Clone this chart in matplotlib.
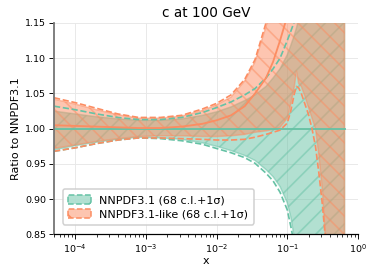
import matplotlib
matplotlib.use('Agg')
import matplotlib.pyplot as plt
from matplotlib.patches import Patch
from matplotlib.colors import to_rgba

DPI = 110
plt.rcParams.update({
    'font.family': 'DejaVu Sans',
    'font.size': 7.3,
    'axes.titlesize': 8.9,
    'axes.labelsize': 7.3,
    'xtick.labelsize': 6.2,
    'ytick.labelsize': 6.2,
    'legend.fontsize': 7.3,
    'hatch.linewidth': 1.1,
})

GREEN = '#66c2a5'
ORANGE = '#fc8d62'

# x grid (momentum fraction)
x = [5.0e-5, 1.0e-4, 2.0e-4, 4.0e-4, 7.9e-4, 1.6e-3, 3.2e-3, 6.3e-3,
     1.0e-2, 1.6e-2, 2.5e-2, 3.5e-2, 5.0e-2, 6.3e-2, 7.9e-2, 0.100,
     0.112, 0.126, 0.135, 0.145, 0.158, 0.178, 0.200, 0.224,
     0.251, 0.282, 0.316, 0.339, 0.363, 0.398, 0.501, 0.646]

# NNPDF3.1 (reference, ratio to itself)
nn_cv = [1.0, 1.0, 1.0, 1.0, 1.0, 1.0, 1.0, 1.0,
         1.0, 1.0, 1.0, 1.0, 1.0, 1.0, 1.0, 1.0,
         1.0, 1.0, 1.0, 1.0, 1.0, 1.0, 1.0, 1.0,
         1.0, 1.0, 1.0, 1.0, 1.0, 1.0, 1.0, 1.0]
nn_68_up = [1.025, 1.021, 1.017, 1.014, 1.012, 1.012, 1.014, 1.019,
            1.024, 1.031, 1.040, 1.048, 1.060, 1.072, 1.085, 1.105,
            1.118, 1.133, 1.143, 1.155, 1.170, 1.190, 1.210, 1.230,
            1.250, 1.270, 1.290, 1.300, 1.310, 1.330, 1.360, 1.400]
nn_68_dn = [0.970, 0.976, 0.981, 0.985, 0.988, 0.987, 0.985, 0.980,
            0.975, 0.969, 0.962, 0.955, 0.942, 0.932, 0.918, 0.895,
            0.875, 0.845, 0.820, 0.800, 0.770, 0.740, 0.720, 0.700,
            0.680, 0.660, 0.640, 0.630, 0.620, 0.600, 0.570, 0.530]
nn_sd_up = [1.032, 1.027, 1.021, 1.016, 1.013, 1.013, 1.016, 1.023,
            1.030, 1.038, 1.048, 1.057, 1.072, 1.085, 1.100, 1.125,
            1.138, 1.152, 1.162, 1.172, 1.190, 1.210, 1.230, 1.250,
            1.270, 1.290, 1.310, 1.320, 1.330, 1.350, 1.380, 1.420]
nn_sd_dn = [0.968, 0.973, 0.979, 0.984, 0.987, 0.986, 0.983, 0.978,
            0.972, 0.966, 0.959, 0.951, 0.937, 0.926, 0.910, 0.885,
            0.862, 0.835, 0.810, 0.790, 0.760, 0.730, 0.710, 0.690,
            0.670, 0.650, 0.630, 0.620, 0.610, 0.590, 0.560, 0.520]

# NNPDF3.1-like
lk_cv = [1.005, 1.004, 1.003, 1.002, 1.001, 1.001, 1.003, 1.007,
         1.012, 1.019, 1.032, 1.050, 1.072, 1.095, 1.125, 1.160,
         1.175, 1.190, 1.200, 1.210, 1.225, 1.245, 1.265, 1.285,
         1.305, 1.325, 1.345, 1.355, 1.365, 1.385, 1.425, 1.465]
lk_68_up = [1.042, 1.035, 1.027, 1.020, 1.015, 1.015, 1.018, 1.026,
            1.034, 1.045, 1.068, 1.095, 1.145, 1.180, 1.210, 1.240,
            1.260, 1.280, 1.290, 1.300, 1.320, 1.340, 1.360, 1.380,
            1.400, 1.420, 1.440, 1.450, 1.460, 1.480, 1.530, 1.600]
lk_68_dn = [0.972, 0.977, 0.982, 0.986, 0.989, 0.990, 0.990, 0.989,
            0.989, 0.990, 0.992, 0.995, 0.997, 0.999, 1.002, 1.015,
            1.035, 1.060, 1.082, 1.064, 1.060, 1.046, 1.030, 1.015,
            1.000, 0.960, 0.910, 0.860, 0.800, 0.750, 0.680, 0.600]
lk_sd_up = [1.044, 1.037, 1.029, 1.021, 1.016, 1.016, 1.019, 1.028,
            1.036, 1.048, 1.070, 1.098, 1.150, 1.185, 1.215, 1.245,
            1.265, 1.285, 1.295, 1.305, 1.325, 1.345, 1.365, 1.385,
            1.405, 1.425, 1.445, 1.455, 1.465, 1.485, 1.535, 1.605]
lk_sd_dn = [0.968, 0.973, 0.979, 0.984, 0.987, 0.987, 0.986, 0.985,
            0.984, 0.984, 0.985, 0.988, 0.992, 0.995, 0.998, 1.008,
            1.025, 1.050, 1.060, 1.058, 1.050, 1.035, 1.020, 1.000,
            0.975, 0.935, 0.890, 0.855, 0.800, 0.740, 0.660, 0.580]

pdfs = [
    ('NNPDF3.1', GREEN, '//', nn_cv, nn_68_up, nn_68_dn, nn_sd_up, nn_sd_dn),
    ('NNPDF3.1-like', ORANGE, '\\\\', lk_cv, lk_68_up, lk_68_dn, lk_sd_up, lk_sd_dn),
]

fig = plt.figure(figsize=(374 / DPI, 275 / DPI), dpi=DPI)
ax = fig.add_axes([0.1444, 0.1473, 0.8126, 0.7691])

handles = []
for label, color, hatch, cv, up68, dn68, sdup, sddn in pdfs:
    ax.plot(x, cv, color=color, lw=1.2, zorder=2)
    ax.fill_between(x, dn68, up68, color=color, alpha=0.5, lw=0, zorder=1)
    ax.fill_between(x, dn68, up68, facecolor='none', edgecolor=color,
                    alpha=0.5, hatch=hatch, lw=1.0, zorder=1)
    ax.plot(x, sdup, color=color, ls='--', lw=1.1, zorder=2)
    ax.plot(x, sddn, color=color, ls='--', lw=1.1, zorder=2)
    handles.append(Patch(facecolor=to_rgba(color, 0.5), edgecolor=color,
                         linestyle='--', hatch=hatch[0], lw=1.0,
                         label=f'{label} (68 c.l.+1σ)'))

ax.set_xscale('log')
ax.set_xlim(5e-5, 1.0)
ax.set_ylim(0.85, 1.15)
ax.set_yticks([0.85, 0.90, 0.95, 1.00, 1.05, 1.10, 1.15])
ax.set_title('c at 100 GeV', pad=4)
ax.set_xlabel('x', labelpad=1)
ax.set_ylabel('Ratio to NNPDF3.1', labelpad=3)

ax.grid(True, which='major', color='#e8e8e8', lw=0.6, zorder=0)
ax.set_axisbelow(True)
ax.spines['top'].set_visible(False)
ax.spines['right'].set_visible(False)
ax.spines['left'].set_color('#777777')
ax.spines['left'].set_linewidth(1.2)
ax.spines['bottom'].set_linewidth(0.8)
ax.tick_params(axis='both', which='major', length=3, width=0.6, pad=2)
ax.tick_params(axis='x', which='minor', length=1.8, width=0.5)

ax.legend(handles=handles, loc='lower left', framealpha=0.9,
          edgecolor='#cccccc', handlelength=2.0, handleheight=0.9,
          borderpad=0.5, labelspacing=0.3, bbox_to_anchor=(0.01, 0.02))

fig.savefig('out.png', dpi=DPI)
